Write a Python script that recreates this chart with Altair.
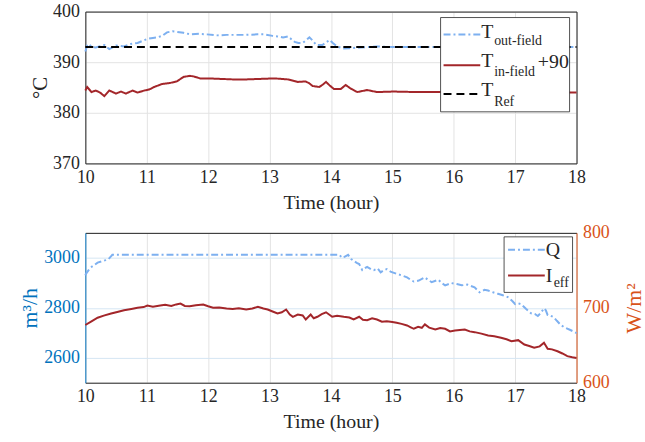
import altair as alt
import pandas as pd

# ---------------- data ----------------
t_out_hours = [10.0, 10.03, 10.06, 10.1, 10.17, 10.25, 10.31, 10.39, 10.45, 10.5, 10.63, 10.74, 10.85,
               10.93, 11.01, 11.1, 11.17, 11.25, 11.33, 11.42, 11.49, 11.6, 11.71, 11.85, 11.98, 12.15,
               12.3, 12.45, 12.62, 12.8, 12.92, 13.05, 13.13, 13.22, 13.3, 13.41, 13.47, 13.54, 13.6,
               13.65, 13.7, 13.76, 13.86, 13.92, 13.98, 14.03, 14.1, 14.21, 14.35, 14.48, 14.6, 14.75,
               15.0, 15.5, 16.0, 16.5, 17.0, 17.5, 18.0]
t_out_vals = [392.1, 393.3, 393.6, 393.0, 392.9, 393.2, 393.4, 392.6, 393.0, 393.3, 393.1, 393.6, 393.8,
              394.2, 394.6, 394.8, 394.9, 395.2, 395.9, 396.1, 396.0, 395.8, 395.5, 395.6, 395.5, 395.3,
              395.4, 395.4, 395.4, 395.5, 395.5, 395.2, 395.1, 394.9, 395.1, 394.0, 393.8, 393.8, 394.4,
              394.9, 394.3, 393.4, 393.4, 393.9, 394.4, 393.8, 393.1, 392.7, 392.8, 392.9, 393.0, 393.1,
              393.0, 393.0, 393.0, 392.9, 393.0, 393.0, 393.0]

t_in_hours = [10.0, 10.03, 10.1, 10.17, 10.24, 10.31, 10.39, 10.5, 10.58, 10.66, 10.77, 10.85, 10.96,
              11.04, 11.12, 11.25, 11.38, 11.49, 11.6, 11.7, 11.76, 11.87, 12.0, 12.2, 12.4, 12.62, 12.85,
              13.08, 13.3, 13.46, 13.59, 13.65, 13.7, 13.81, 13.87, 13.92, 13.98, 14.05, 14.16, 14.24,
              14.32, 14.43, 14.59, 14.75, 15.02, 15.4, 15.78, 16.2, 16.6, 17.0, 17.5, 18.0]
t_in_vals = [384.4, 385.1, 384.1, 384.4, 384.0, 383.3, 384.4, 383.8, 384.2, 383.8, 384.4, 384.0, 384.4,
             384.6, 385.1, 385.7, 385.9, 386.2, 387.1, 387.3, 387.2, 386.8, 386.8, 386.7, 386.6, 386.6,
             386.7, 386.8, 386.6, 386.1, 386.2, 385.8, 385.3, 385.1, 385.6, 386.1, 385.4, 384.7, 384.7,
             385.5, 384.8, 384.1, 384.5, 384.1, 384.2, 384.1, 384.1, 384.0, 384.0, 384.0, 384.0, 384.0]

t_ref_hours = [10.0, 18.0]
t_ref_vals = [393.0, 393.0]

q_hours = [10.0, 10.01, 10.05, 10.09, 10.15, 10.2, 10.27, 10.33, 10.38, 10.44, 11.0, 12.0, 13.0, 14.0,
           14.14, 14.18, 14.22, 14.28, 14.33, 14.37, 14.42, 14.46, 14.51, 14.55, 14.59, 14.65, 14.7,
           14.76, 14.81, 14.86, 14.91, 14.97, 15.07, 15.15, 15.24, 15.3, 15.35, 15.43, 15.53, 15.58,
           15.64, 15.75, 15.81, 15.86, 15.96, 16.05, 16.13, 16.22, 16.34, 16.42, 16.5, 16.56, 16.64,
           16.72, 16.8, 16.88, 16.95, 17.0, 17.05, 17.1, 17.18, 17.26, 17.32, 17.37, 17.42, 17.47,
           17.5, 17.53, 17.58, 17.63, 17.68, 17.74, 17.8, 17.9, 17.95, 18.0]
q_vals = [2930, 2936, 2950, 2962, 2972, 2981, 2986, 2991, 2996, 3012, 3012, 3012, 3012, 3012,
          3012, 3000, 3004, 3012, 2995, 2988, 2980, 2975, 2951, 2958, 2964, 2955, 2951,
          2958, 2942, 2950, 2955, 2945, 2936, 2930, 2922, 2912, 2905, 2909, 2922, 2912,
          2903, 2912, 2898, 2890, 2899, 2895, 2890, 2893, 2882, 2862, 2872, 2869, 2862,
          2856, 2850, 2843, 2828, 2815, 2818, 2814, 2795, 2778, 2775, 2767, 2780, 2798,
          2790, 2771, 2768, 2762, 2748, 2732, 2722, 2711, 2705, 2699]

i_hours = [10.0, 10.1, 10.2, 10.3, 10.42, 10.52, 10.63, 10.75, 10.85, 10.95, 11.01, 11.1, 11.22, 11.3,
           11.4, 11.48, 11.55, 11.62, 11.7, 11.8, 11.92, 12.0, 12.08, 12.18, 12.3, 12.4, 12.5, 12.62,
           12.72, 12.81, 12.9, 12.97, 13.05, 13.13, 13.2, 13.27, 13.33, 13.38, 13.46, 13.54, 13.59,
           13.67, 13.72, 13.78, 13.85, 13.92, 14.02, 14.1, 14.21, 14.3, 14.37, 14.46, 14.52, 14.59,
           14.67, 14.75, 14.83, 14.91, 15.0, 15.07, 15.15, 15.24, 15.3, 15.35, 15.42, 15.48, 15.53,
           15.6, 15.7, 15.78, 15.86, 15.94, 16.02, 16.1, 16.18, 16.26, 16.34, 16.45, 16.56, 16.66,
           16.77, 16.86, 16.94, 17.05, 17.15, 17.23, 17.31, 17.4, 17.47, 17.53, 17.6, 17.69, 17.77,
           17.85, 17.93, 18.0]
i_vals = [677, 682, 686.7, 689.5, 692.4, 694.5, 696.8, 698.5, 700, 701, 703, 701.5, 703, 704,
          702.5, 704.5, 705.7, 702.5, 702, 703.5, 704.4, 702, 700, 700.5, 699, 698.5, 699.5, 697.7,
          699, 701.3, 699, 697.7, 695, 692.4, 694, 697.7, 691, 688, 691, 689.7, 684.4,
          691, 686, 688, 691.5, 694, 688, 689.5, 688, 687, 684.4, 688, 684, 683.5,
          686, 684.4, 681.5, 682, 681, 680, 678.5, 676.4, 674, 672, 674.5, 673.3, 677.8,
          673.5, 671, 673, 672, 668.5, 669.7, 670.5, 671, 668.5, 667.5, 665.5, 663, 662,
          660, 658, 655.5, 656.8, 651, 649, 646.7, 648.5, 653.3, 645.3, 644.5, 642, 639,
          635.5, 634, 633]

x_ticks = [10, 11, 12, 13, 14, 15, 16, 17, 18]
t_ticks = [370, 380, 390, 400]
q_ticks = [2600, 2800, 3000]
i_ticks = [600, 700, 800]

# ---------------- styles ----------------
FONT = "Liberation Serif"
TXT = "#262626"
LBLUE = "#7DB0F0"
DRED = "#A3262A"
AX_BLUE = "#0072BD"
AX_ORANGE = "#D95319"
GRID = "#e3e3e3"
GRID_B = "#d5e6f3"
DASHDOT = [7, 3, 2, 3]
W = 495

xs = alt.Scale(domain=[10, 18], nice=False, zero=False)

def x_bottom(grid=True):
    return alt.Axis(values=x_ticks, title="Time (hour)", grid=grid, gridColor=GRID, ticks=False,
                    domainColor=TXT, labelColor=TXT, labelFont=FONT, labelFontSize=18,
                    labelPadding=5, titleFont=FONT, titleFontSize=20, titleFontWeight="normal",
                    titleColor=TXT, titlePadding=6, labelFlush=False, format="d")

x_top = alt.Axis(orient="top", labels=False, ticks=False, grid=False, title=None, domainColor=TXT)

one = pd.DataFrame({"k": [0]})

def txt(s, x, y, size, color=TXT):
    return alt.Chart(one).mark_text(font=FONT, fontSize=size, align="left", baseline="alphabetic",
                                    color=color).encode(x=alt.value(x), y=alt.value(y), text=alt.value(s))

def sample(x1, x2, y, color, dash, width=2):
    return alt.Chart(one).mark_rule(color=color, strokeWidth=width, strokeDash=dash).encode(
        x=alt.value(x1), x2=alt.value(x2), y=alt.value(y))

def box(x1, x2, y1, y2):
    return alt.Chart(one).mark_rect(fill="white", stroke=TXT, strokeWidth=0.8).encode(
        x=alt.value(x1), x2=alt.value(x2), y=alt.value(y1), y2=alt.value(y2))

# ---------------- top panel ----------------
df_t = pd.concat([
    pd.DataFrame({"h": t_out_hours, "v": t_out_vals, "s": "out"}),
    pd.DataFrame({"h": t_in_hours, "v": t_in_vals, "s": "in"}),
])
ts = alt.Scale(domain=[370, 400], nice=False, zero=False)

t_lines = alt.Chart(df_t).mark_line(strokeWidth=2).encode(
    x=alt.X("h:Q", scale=xs, axis=x_bottom()),
    y=alt.Y("v:Q", scale=ts, axis=alt.Axis(values=t_ticks, title="°C", grid=True, gridColor=GRID,
                                           ticks=False, domainColor=TXT, labelColor=TXT, labelFont=FONT,
                                           labelFontSize=18, labelPadding=6, titleFont=FONT,
                                           titleFontSize=21, titleFontWeight="normal", titleColor=TXT,
                                           titlePadding=2, format="d")),
    color=alt.Color("s:N", scale=alt.Scale(domain=["out", "in"], range=[LBLUE, DRED]), legend=None),
    strokeDash=alt.StrokeDash("s:N", scale=alt.Scale(domain=["out", "in"], range=[DASHDOT, [1, 0]]),
                              legend=None),
    detail="s:N",
)

df_ref = pd.DataFrame({"h": t_ref_hours, "v": t_ref_vals})
t_ref = alt.Chart(df_ref).mark_line(color="black", strokeWidth=2, strokeDash=[8, 5]).encode(
    x=alt.X("h:Q", scale=xs, axis=x_top),
    y=alt.Y("v:Q", scale=ts, axis=alt.Axis(orient="right", labels=False, ticks=False, grid=False,
                                           title=None, domainColor=TXT)),
)

top_legend = [
    box(358, 488, 6, 101),
    sample(361, 398, 23, LBLUE, DASHDOT),
    txt("T", 399, 27, 20), txt("out-field", 412, 34, 14),
    sample(361, 398, 54, DRED, [1, 0]),
    txt("T", 399, 56, 20), txt("in-field", 412, 65, 14), txt("+90", 456, 57, 20),
    sample(361, 398, 83, "black", [8, 5]),
    txt("T", 399, 85, 20), txt("Ref", 412, 95, 14),
]

top = alt.layer(t_lines, t_ref, *top_legend).resolve_axis(x="independent", y="independent").properties(
    width=W, height=153)

# ---------------- bottom panel ----------------
df_q = pd.DataFrame({"h": q_hours, "v": q_vals})
df_i = pd.DataFrame({"h": i_hours, "v": i_vals})

q_line = alt.Chart(df_q).mark_line(color=LBLUE, strokeWidth=2, strokeDash=DASHDOT).encode(
    x=alt.X("h:Q", scale=xs, axis=x_bottom()),
    y=alt.Y("v:Q", scale=alt.Scale(domain=[2500, 3100], nice=False, zero=False),
            axis=alt.Axis(values=q_ticks, title="m³/h", grid=True, gridColor=GRID_B, ticks=False,
                          domainColor=AX_BLUE, labelColor=AX_BLUE, labelFont=FONT, labelFontSize=18,
                          labelPadding=6, titleFont=FONT, titleFontSize=22, titleFontWeight="normal",
                          titleColor=AX_BLUE, titlePadding=2, format="d")),
)
i_line = alt.Chart(df_i).mark_line(color=DRED, strokeWidth=2).encode(
    x=alt.X("h:Q", scale=xs, axis=x_top),
    y=alt.Y("v:Q", scale=alt.Scale(domain=[600, 800], nice=False, zero=False),
            axis=alt.Axis(orient="right", values=i_ticks, title="W/m²", grid=False, ticks=False,
                          domainColor=AX_ORANGE, labelColor=AX_ORANGE, labelFont=FONT, labelFontSize=18,
                          labelPadding=6, titleFont=FONT, titleFontSize=22, titleFontWeight="normal",
                          titleColor=AX_ORANGE, titlePadding=14, titleAngle=-90, titleBaseline="top",
                          format="d")),
)

bot_legend = [
    box(422, 491, 4, 60),
    sample(426, 463, 17, LBLUE, DASHDOT),
    txt("Q", 464, 23, 20),
    sample(426, 463, 43, DRED, [1, 0]),
    txt("I", 464, 49, 20), txt("eff", 472, 55, 14),
]

bottom = alt.layer(q_line, i_line, *bot_legend).resolve_scale(y="independent").resolve_axis(
    x="independent", y="independent").properties(width=W, height=151)

chart = alt.vconcat(top, bottom, spacing=70, bounds="flush").properties(
    padding={"left": 18, "top": 0, "right": 0, "bottom": 0}
).configure_view(stroke=None).configure(background="white", font=FONT).configure_axis(
    labelFont=FONT, titleFont=FONT)

chart.save("out.html", embed_options={"renderer": "svg", "actions": False})
